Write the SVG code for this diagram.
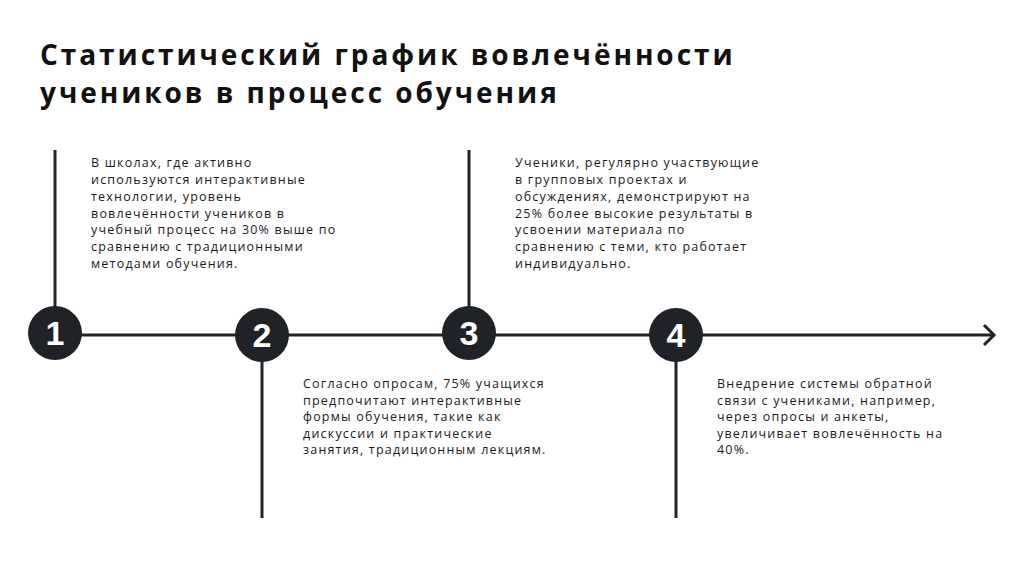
<svg xmlns="http://www.w3.org/2000/svg" width="1024" height="574" viewBox="0 0 1024 574">
<defs>
<style>
.title{font-family:"Open Sans","DejaVu Sans",sans-serif;font-weight:700;font-size:28px;letter-spacing:2.95px;fill:#111}
.body{font-family:"Open Sans","DejaVu Sans",sans-serif;font-size:12.5px;letter-spacing:1.2px;fill:#1a1a1a}
.ln{stroke:#1f2328;stroke-width:3;fill:none}
.dot{fill:#1f2328}
.num{font-family:"Liberation Sans",Arial,sans-serif;font-weight:700;font-size:34px;fill:#fff;text-anchor:middle}
</style>
</defs>
<rect width="1024" height="574" fill="#fff"/>
<g id="title">
<text class="title" x="40" y="65">Статистический график вовлечённости</text>
<text class="title" x="40" y="103">учеников в процесс обучения</text>
</g>
<g id="connectors">
<line class="ln" x1="55" y1="335" x2="993" y2="335"/>
<polyline class="ln" points="984,325 994,335 984,345" stroke-width="2.5"/>
<line class="ln" x1="55" y1="150" x2="55" y2="310"/>
<line class="ln" x1="469" y1="150" x2="469" y2="310"/>
<line class="ln" x1="262" y1="360" x2="262" y2="518"/>
<line class="ln" x1="676" y1="360" x2="676" y2="518"/>
</g>
<g id="node1">
<circle class="dot" cx="55" cy="333" r="27"/>
<text class="num" x="55" y="345">1</text>
<text class="body"><tspan x="91" y="167">В школах, где активно</tspan><tspan x="91" y="184">используются интерактивные</tspan><tspan x="91" y="201">технологии, уровень</tspan><tspan x="91" y="218">вовлечённости учеников в</tspan><tspan x="91" y="234">учебный процесс на 30% выше по</tspan><tspan x="91" y="251">сравнению с традиционными</tspan><tspan x="91" y="268">методами обучения.</tspan></text>
</g>
<g id="node2">
<circle class="dot" cx="262" cy="335" r="27"/>
<text class="num" x="262" y="347">2</text>
<text class="body"><tspan x="303" y="388">Согласно опросам, 75% учащихся</tspan><tspan x="303" y="404.5">предпочитают интерактивные</tspan><tspan x="303" y="421">формы обучения, такие как</tspan><tspan x="303" y="437.5">дискуссии и практические</tspan><tspan x="303" y="454">занятия, традиционным лекциям.</tspan></text>
</g>
<g id="node3">
<circle class="dot" cx="469" cy="333" r="27"/>
<text class="num" x="469" y="345">3</text>
<text class="body"><tspan x="515" y="167">Ученики, регулярно участвующие</tspan><tspan x="515" y="184">в групповых проектах и</tspan><tspan x="515" y="201">обсуждениях, демонстрируют на</tspan><tspan x="515" y="218">25% более высокие результаты в</tspan><tspan x="515" y="234">усвоении материала по</tspan><tspan x="515" y="251">сравнению с теми, кто работает</tspan><tspan x="515" y="268">индивидуально.</tspan></text>
</g>
<g id="node4">
<circle class="dot" cx="676" cy="335" r="27"/>
<text class="num" x="676" y="347">4</text>
<text class="body"><tspan x="717" y="388">Внедрение системы обратной</tspan><tspan x="717" y="404.5">связи с учениками, например,</tspan><tspan x="717" y="421">через опросы и анкеты,</tspan><tspan x="717" y="437.5">увеличивает вовлечённость на</tspan><tspan x="717" y="454">40%.</tspan></text>
</g>
</svg>
